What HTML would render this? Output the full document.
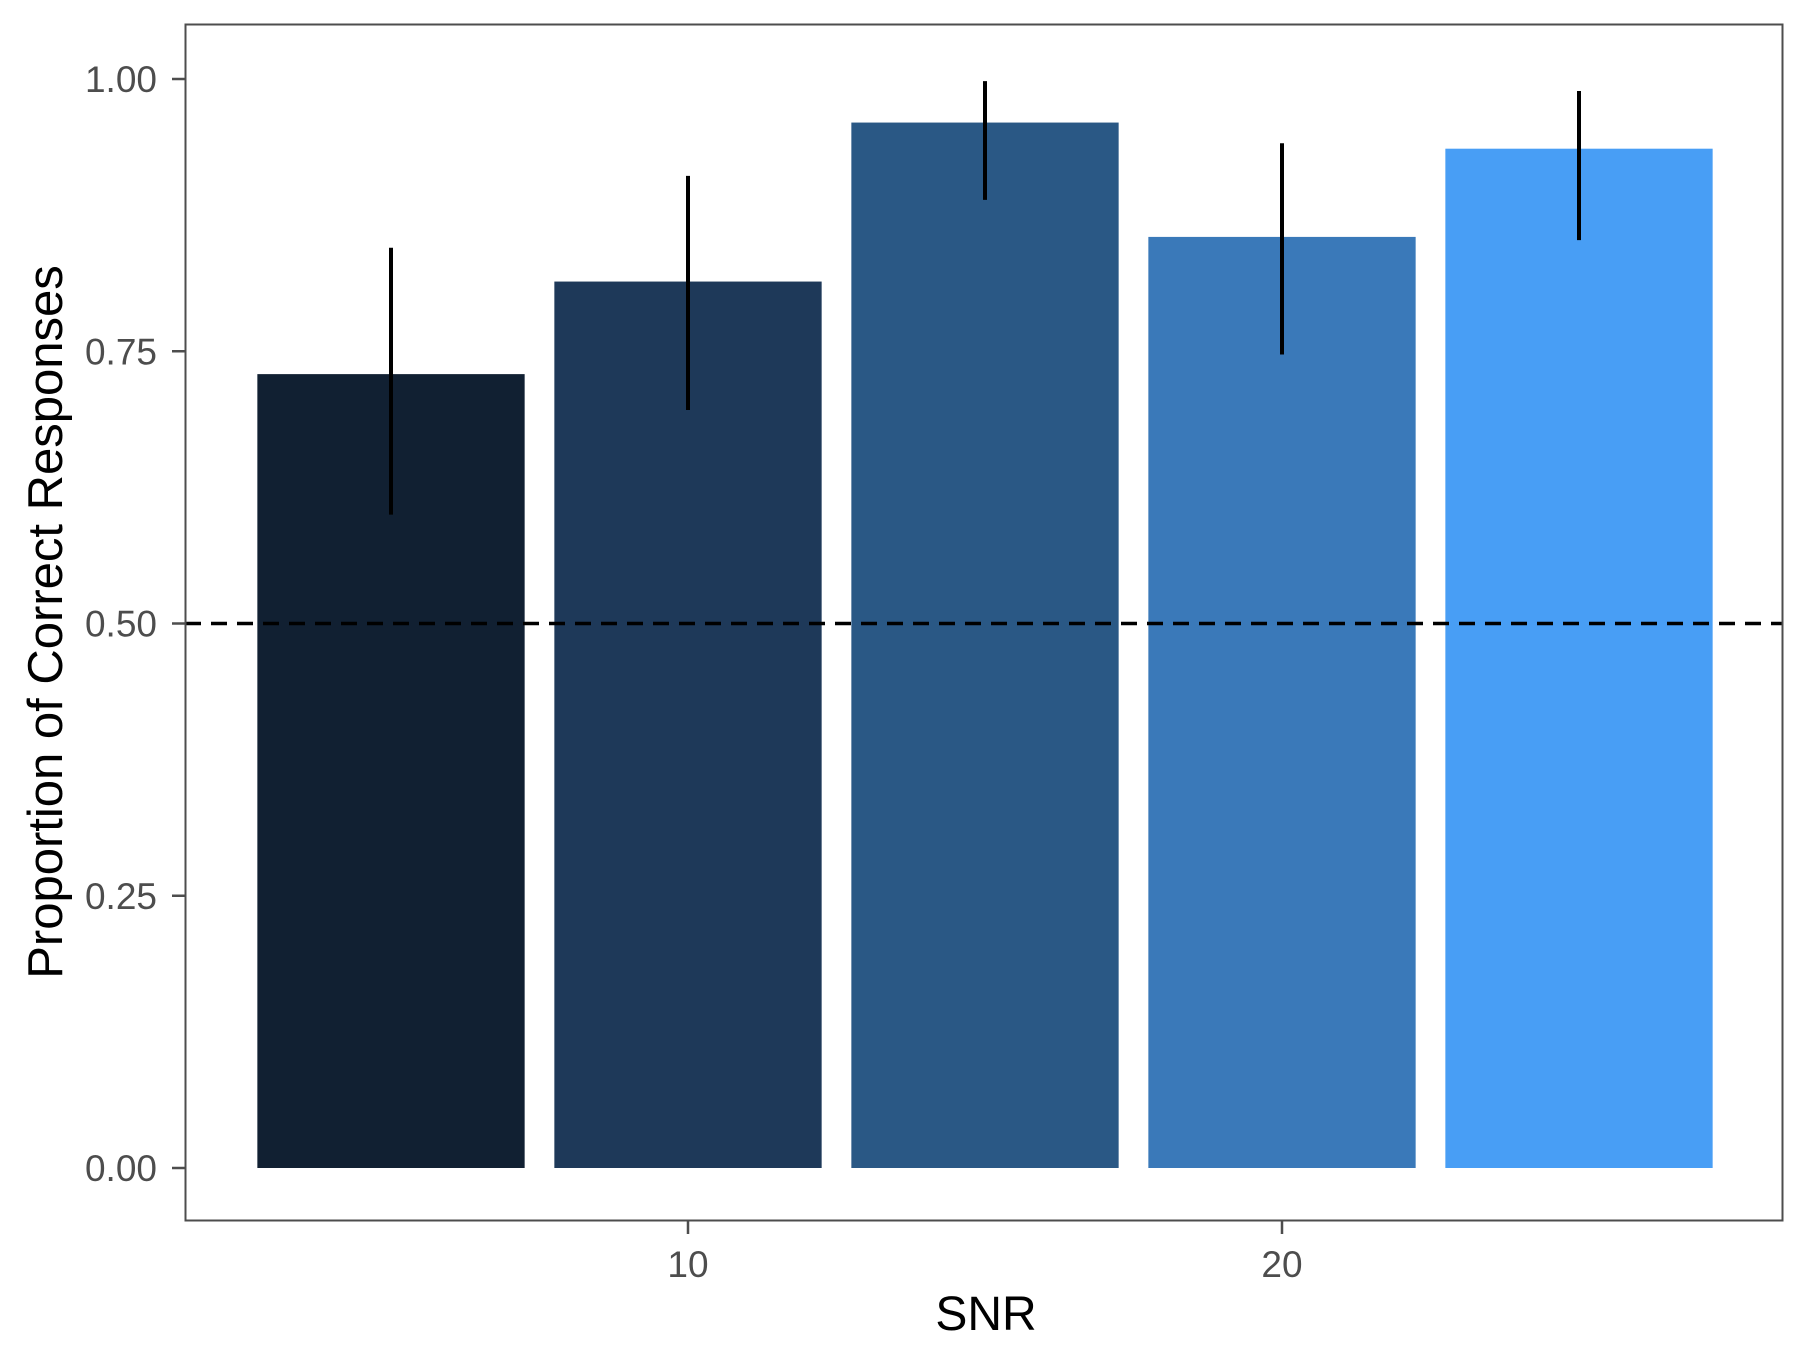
<!DOCTYPE html>
<html>
<head>
<meta charset="utf-8">
<style>
  html, body { margin: 0; padding: 0; background: #ffffff; }
  svg { display: block; }
  text { font-family: "Liberation Sans", sans-serif; }
</style>
</head>
<body>
<svg id="chart" xmlns="http://www.w3.org/2000/svg" width="1808" height="1366" viewBox="0 0 1808 1366">
  <rect x="0" y="0" width="1808" height="1366" fill="#ffffff"/>
  <g id="bars"></g>
  <g id="errorbars"></g>
  <g id="refline"></g>
  <rect x="185.5" y="24.5" width="1597" height="1196" fill="none" stroke="#4d4d4d" stroke-width="2"/>
  <g id="yaxis"></g>
  <g id="xaxis"></g>
  <text x="986" y="1330" font-size="48" fill="#000" text-anchor="middle">SNR</text>
  <text transform="translate(62,622) rotate(-90)" font-size="49" fill="#000" text-anchor="middle">Proportion of Correct Responses</text>
</svg>
<script>
const snr = [5, 10, 15, 20, 25];
const proportion = [0.729, 0.814, 0.960, 0.855, 0.936];
const errLower = [0.600, 0.696, 0.889, 0.747, 0.852];
const errUpper = [0.845, 0.911, 0.998, 0.941, 0.989];
const barColors = ["#112032", "#1e3959", "#2a5885", "#3a79b9", "#489ef5"];
const yTicks = [0, 0.25, 0.5, 0.75, 1.0];
const yTickLabels = ["0.00", "0.25", "0.50", "0.75", "1.00"];
const xTicks = [10, 20];
const xTickLabels = ["10", "20"];
const chanceLevel = 0.5;

const NS = "http://www.w3.org/2000/svg";
const panelLeft = 185, panelRight = 1782;
function xScale(v) { return 688 + (v - 10) * 59.4; }
function yScale(v) { return 1168 - v * 1089; }
const barHalf = 2.25;

function mk(tag, attrs, parent) {
  const el = document.createElementNS(NS, tag);
  for (const k in attrs) el.setAttribute(k, attrs[k]);
  parent.appendChild(el);
  return el;
}

const gBars = document.getElementById('bars');
const gErr = document.getElementById('errorbars');
for (let i = 0; i < snr.length; i++) {
  const x0 = xScale(snr[i] - barHalf), x1 = xScale(snr[i] + barHalf);
  const yT = yScale(proportion[i]), y0 = yScale(0);
  const r = mk('rect', {x: x0, y: yT, width: x1 - x0, height: y0 - yT, fill: barColors[i]}, gBars);
  
  
  const l = mk('line', {x1: xScale(snr[i]), x2: xScale(snr[i]), y1: yScale(errLower[i]), y2: yScale(errUpper[i]), stroke: '#000', 'stroke-width': 4}, gErr);
  
  
}

const ref = mk('line', {x1: panelLeft, x2: panelRight, y1: yScale(chanceLevel), y2: yScale(chanceLevel), stroke: '#000', 'stroke-width': 3.6, 'stroke-dasharray': '16 10'}, document.getElementById('refline'));



const gY = document.getElementById('yaxis');
for (let i = 0; i < yTicks.length; i++) {
  const y = yScale(yTicks[i]);
  const t = mk('line', {x1: 172, x2: 185, y1: y, y2: y, stroke: '#4d4d4d', 'stroke-width': 2.5}, gY);
  
  
  const lb = mk('text', {x: 157, y: y + 13, 'font-size': 37, fill: '#4d4d4d', 'text-anchor': 'end'}, gY);
  lb.textContent = yTickLabels[i];
  
  
}
const gX = document.getElementById('xaxis');
for (let i = 0; i < xTicks.length; i++) {
  const x = xScale(xTicks[i]);
  const t = mk('line', {x1: x, x2: x, y1: 1221, y2: 1234, stroke: '#4d4d4d', 'stroke-width': 2.5}, gX);
  
  
  const lb = mk('text', {x: x, y: 1277, 'font-size': 37, fill: '#4d4d4d', 'text-anchor': 'middle'}, gX);
  lb.textContent = xTickLabels[i];
  
  
}
</script>
</body>
</html>
